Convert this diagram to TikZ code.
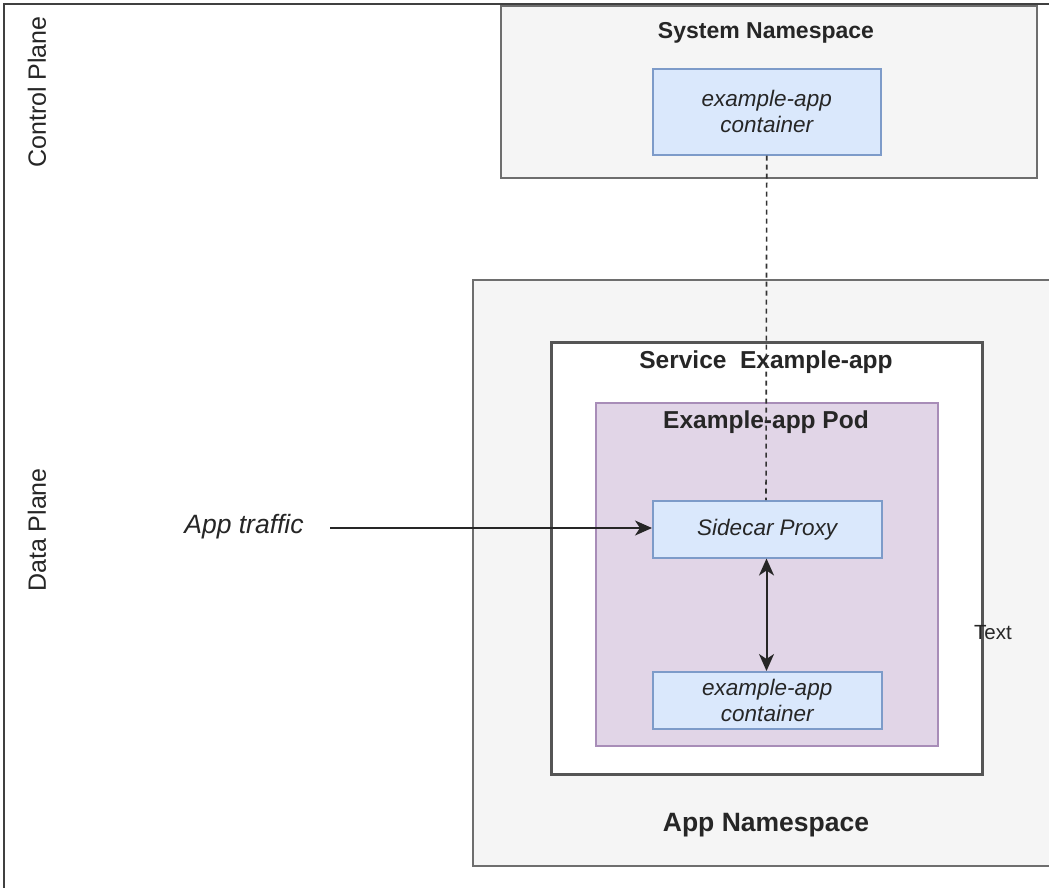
\documentclass[tikz,border=0pt]{standalone}
\usepackage{fontspec}
\setmainfont{Liberation Sans}
\usetikzlibrary{arrows.meta}
\definecolor{bluefill}{HTML}{DAE8FC}
\definecolor{blueline}{HTML}{7D9BC9}
\definecolor{purplefill}{HTML}{E1D5E7}
\definecolor{purpleline}{HTML}{A88DB8}
\definecolor{grayfill}{HTML}{F5F5F5}
\definecolor{grayline}{HTML}{6E6E6E}
\definecolor{darkline}{HTML}{555555}
\tikzset{
  box/.style={draw, rectangle, inner sep=0pt, anchor=north west},
  graybox/.style={box, fill=grayfill, draw=grayline, line width=1.8pt},
  svcbox/.style={box, fill=white, draw=darkline, line width=2.6pt},
  podbox/.style={box, fill=purplefill, draw=purpleline, line width=1.5pt},
  bluebox/.style={box, fill=bluefill, draw=blueline, line width=1.5pt},
  title/.style={font=\fontsize{23}{27}\selectfont\bfseries, text=black!85},
  plain/.style={font=\fontsize{25}{29}\selectfont, text=black!85},
  boxtext/.style={font=\fontsize{22.5}{26}\selectfont\itshape, text=black!85, align=center},
  conn/.style={line width=2pt, draw=black!85},
  arrowtip/.tip={Stealth[length=17pt,width=15pt,inset=5pt]},
}
\begin{document}
\begin{tikzpicture}[x=1pt,y=-1pt]
\useasboundingbox (0,0) rectangle (1049,887);
\clip (0,0) rectangle (1049,887);
\fill[white] (0,0) rectangle (1049,887);
% outer frame
\draw[line width=2.2pt, draw=black!75] (4,900) -- (4,4) -- (1060,4);
\node[plain, rotate=90] (cp) at (37,92) {Control Plane};
\node[plain, rotate=90] (dp) at (37,530) {Data Plane};
% system namespace
\node[graybox, minimum width=536pt, minimum height=172pt] (sysns) at (500,5) {};
\node[title] (systitle) at (766,33) {System Namespace};
\node[bluebox, minimum width=228pt, minimum height=86pt] (sysc) at (652,68) {};
\node[boxtext] (sysctext) at (sysc.center) {example-app\\container};
% app namespace
\node[graybox, minimum width=600pt, minimum height=586pt] (appns) at (472,279) {};
\node[font=\fontsize{26.5}{30}\selectfont\bfseries, text=black!85] (apptitle) at (766,825) {App Namespace};
% service
\node[svcbox, minimum width=431pt, minimum height=432pt] (svc) at (550,341) {};
\node[title, font=\fontsize{24.5}{29}\selectfont\bfseries] (svctitle) at (766,362) {Service\ \ Example-app};
% pod
\node[podbox, minimum width=342pt, minimum height=343pt] (pod) at (595,402) {};
\node[title, font=\fontsize{24.5}{29}\selectfont\bfseries] (podtitle) at (766,422) {Example-app Pod};
% sidecar
\node[bluebox, minimum width=229pt, minimum height=57pt] (side) at (652,500) {};
\node[boxtext] (sidetext) at (side.center) {Sidecar Proxy};
% app container
\node[bluebox, minimum width=229pt, minimum height=57pt] (appc) at (652,671) {};
\node[boxtext] (appctext) at (appc.center) {example-app\\container};
% text labels
\node[font=\fontsize{26.5}{30}\selectfont\itshape, text=black!85] (traffic) at (244,527) {App traffic};
\node[font=\fontsize{20.5}{24}\selectfont, text=black!85] (txt) at (993,633) {Text};
% connectors
\coordinate (tstart) at (330,528);
\draw[conn, -arrowtip] (tstart) -- (side.west |- tstart);
\draw[conn, arrowtip-arrowtip] ([xshift=114.5pt]side.south west) -- ([xshift=114.5pt]appc.north west);
\draw[line width=1.6pt, draw=black!80, dash pattern=on 5pt off 4pt] (sysc.south) -- ([xshift=114pt]side.north west);
\end{tikzpicture}
\end{document}
